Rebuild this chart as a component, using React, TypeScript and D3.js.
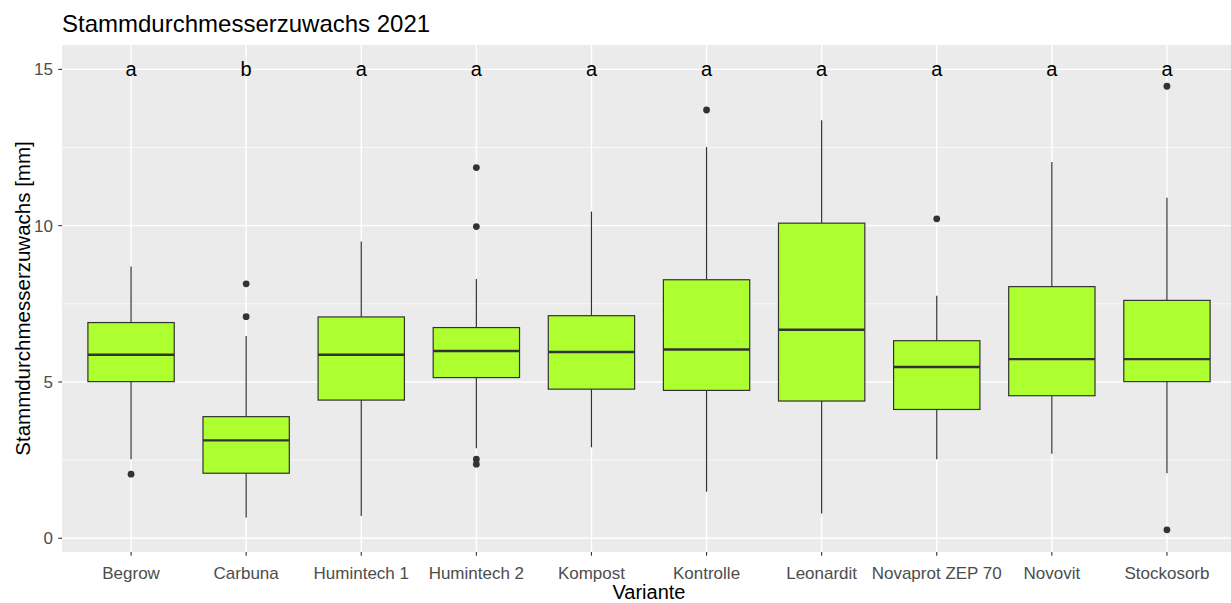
import React from "react";
import * as d3 from "d3";

const categories = ["Begrow", "Carbuna", "Humintech 1", "Humintech 2", "Kompost", "Kontrolle", "Leonardit", "Novaprot ZEP 70", "Novovit", "Stockosorb"];
const whiskerLow = [2.53, 0.66, 0.71, 2.88, 2.91, 1.49, 0.79, 2.53, 2.70, 2.08];
const q1 = [5.01, 2.08, 4.42, 5.14, 4.77, 4.73, 4.39, 4.12, 4.56, 5.01];
const median = [5.87, 3.13, 5.87, 5.99, 5.96, 6.04, 6.67, 5.48, 5.73, 5.73];
const q3 = [6.90, 3.89, 7.08, 6.74, 7.12, 8.27, 10.08, 6.32, 8.05, 7.61];
const whiskerHigh = [8.69, 6.47, 9.49, 8.29, 10.45, 12.52, 13.37, 7.76, 12.04, 10.89];
const outliers = [[2.05], [8.14, 7.09], [], [11.86, 9.97, 2.53, 2.37], [], [13.70], [], [10.22], [], [14.46, 0.27]];
const letters = ["a", "b", "a", "a", "a", "a", "a", "a", "a", "a"];
const letterY = 15;
const yTicks = [0, 5, 10, 15];
const yMinor = [2.5, 7.5, 12.5];

const W = 1231, H = 603;
const L = 62, R = 1236, T = 45, B = 552;
const FONT = "'Liberation Sans', Arial, sans-serif";

export default function App() {
  const x = d3.scalePoint<string>().domain(categories).range([L, R]).padding(0.6);
  const step = x.step();
  const bw = step * 0.75;
  const y = d3.scaleLinear().domain([-0.44, 15.78]).range([B, T]);
  const stroke = "#333333";

  return (
    <svg width={W} height={H} style={{ position: "absolute", left: 0, top: 0, background: "#fff" }}>
      <text x={62} y={31.5} fontFamily={FONT} fontSize={24} fill="#000">Stammdurchmesserzuwachs 2021</text>
      <rect x={L} y={T} width={R - L} height={B - T} fill="#EBEBEB" />
      {yMinor.map((v) => (
        <line key={"mi" + v} x1={L} x2={R} y1={y(v)} y2={y(v)} stroke="#fff" strokeWidth={0.7} />
      ))}
      {yTicks.map((v) => (
        <line key={"ma" + v} x1={L} x2={R} y1={y(v)} y2={y(v)} stroke="#fff" strokeWidth={1.4} />
      ))}
      {categories.map((c) => (
        <line key={"vg" + c} x1={x(c)} x2={x(c)} y1={T} y2={B} stroke="#fff" strokeWidth={1.4} />
      ))}
      {categories.map((c, i) => {
        const cx = x(c)!;
        return (
          <g key={"b" + c}>
            <line x1={cx} x2={cx} y1={y(whiskerHigh[i])} y2={y(q3[i])} stroke={stroke} strokeWidth={1.2} />
            <line x1={cx} x2={cx} y1={y(q1[i])} y2={y(whiskerLow[i])} stroke={stroke} strokeWidth={1.2} />
            <rect x={cx - bw / 2} y={y(q3[i])} width={bw} height={y(q1[i]) - y(q3[i])} fill="#ADFF2F" stroke={stroke} strokeWidth={1.2} />
            <line x1={cx - bw / 2} x2={cx + bw / 2} y1={y(median[i])} y2={y(median[i])} stroke={stroke} strokeWidth={2.4} />
            {outliers[i].map((o, k) => (
              <circle key={k} cx={cx} cy={y(o)} r={3.4} fill={stroke} />
            ))}
            <text x={cx} y={y(letterY)} dy="0.35em" textAnchor="middle" fontFamily={FONT} fontSize={20} fill="#000">{letters[i]}</text>
          </g>
        );
      })}
      {yTicks.map((v) => (
        <g key={"yt" + v}>
          <line x1={L - 3.7} x2={L} y1={y(v)} y2={y(v)} stroke={stroke} strokeWidth={1.1} />
          <text x={L - 9} y={y(v)} dy="0.35em" textAnchor="end" fontFamily={FONT} fontSize={17} fill="#4D4D4D">{v}</text>
        </g>
      ))}
      {categories.map((c) => (
        <g key={"xt" + c}>
          <line x1={x(c)} x2={x(c)} y1={B} y2={B + 3.7} stroke={stroke} strokeWidth={1.1} />
          <text x={x(c)} y={578.5} textAnchor="middle" fontFamily={FONT} fontSize={17} fill="#4D4D4D">{c}</text>
        </g>
      ))}
      <text x={(L + R) / 2} y={599} textAnchor="middle" fontFamily={FONT} fontSize={20} fill="#000">Variante</text>
      <text transform={`translate(29.5, ${(T + B) / 2}) rotate(-90)`} textAnchor="middle" fontFamily={FONT} fontSize={20.5} fill="#000">Stammdurchmesserzuwachs [mm]</text>
    </svg>
  );
}
